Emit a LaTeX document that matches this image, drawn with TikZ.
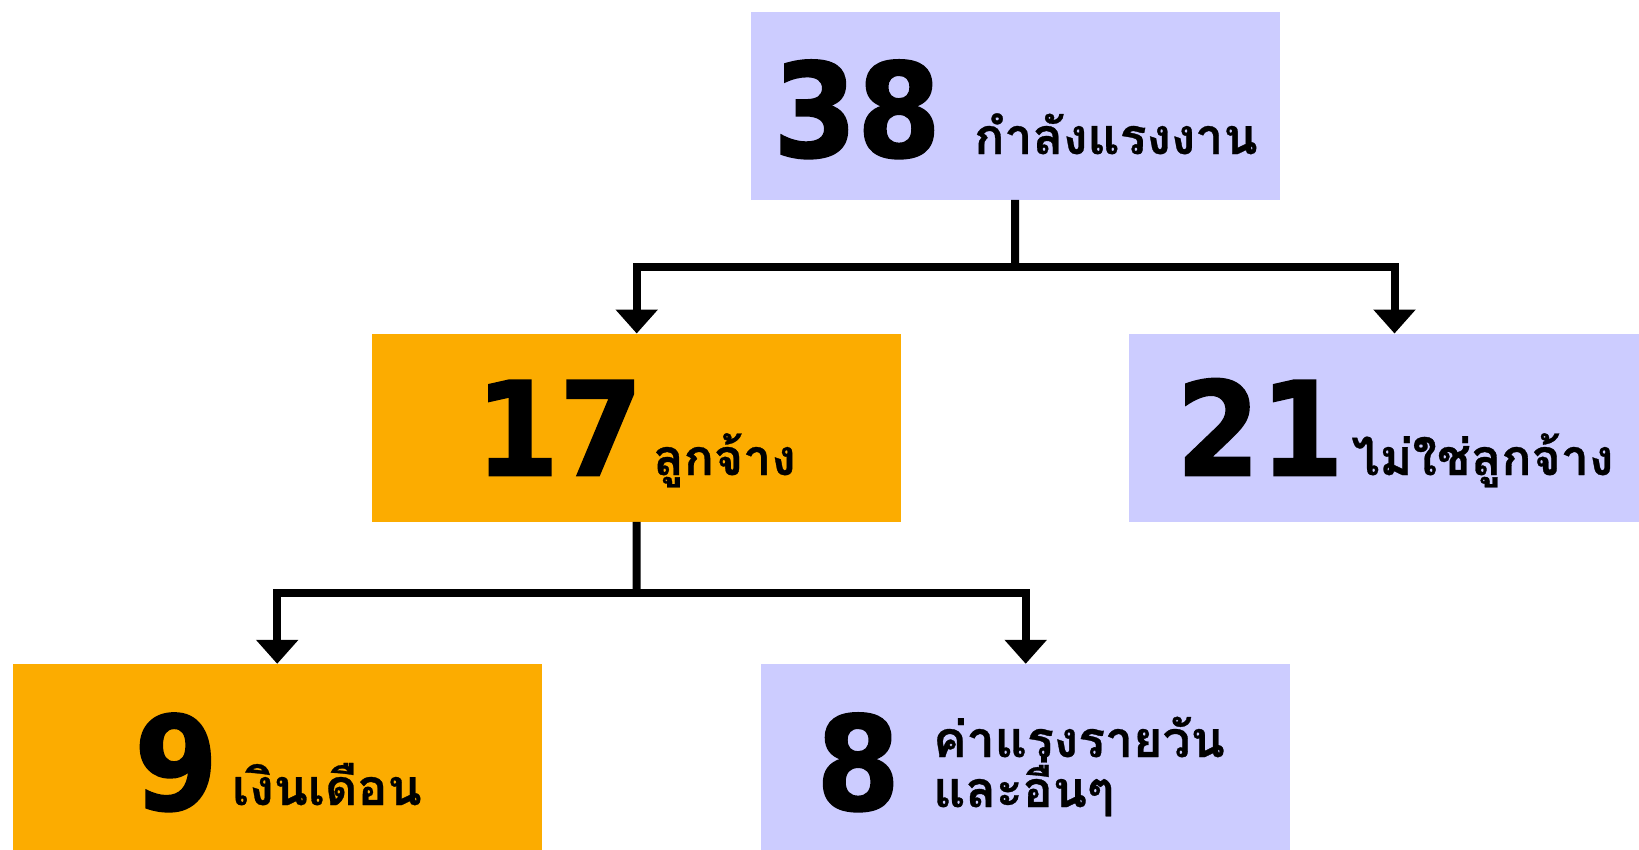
\documentclass[tikz,border=0pt]{standalone}
\usepackage{fontspec}
\newfontfamily\thaifont[Script=Thai,FakeBold=0.6]{Loma}
\newfontfamily\numfont[FakeStretch=0.92,FakeBold=1.2]{DejaVu Sans}
\usetikzlibrary{arrows.meta}
\definecolor{lav}{RGB}{204,204,255}
\definecolor{org}{RGB}{252,172,0}
\begin{document}
\begin{tikzpicture}[x=1pt,y=-1pt,
 box/.style={rectangle, inner sep=0, minimum width=529pt, minimum height=188pt, anchor=north west},
 num/.style={font=\numfont\bfseries\fontsize{131}{131}\selectfont, anchor=base west, inner sep=0},
 lab/.style={font=\thaifont\bfseries\fontsize{50}{55}\selectfont, anchor=base west, inner sep=0},
 conn/.style={line width=8pt},
 arr/.style={line width=8pt, -{Triangle[width=41pt,length=24pt]}}]
\useasboundingbox[fill=white] (0,0) rectangle (1639,849);
\node[box, fill=lav] (b38) at (750.5,11.5) {};
\node[box, fill=org] (b17) at (372,333.5) {};
\node[box, fill=lav, minimum width=510pt] (b21) at (1129,333.5) {};
\node[box, fill=org, minimum height=186pt] (b9) at (12.5,663.8) {};
\node[box, fill=lav, minimum height=186pt] (b8) at (761,663.8) {};
% texts
\node[num] (n38) at (773,157) {38};
\node[lab] (l38) at (974,154) {กำลังแรงงาน};
\node[num] (n17) at (475,475.6) {17};
\node[lab] (l17) at (653,475) {ลูกจ้าง};
\node[num] (n21) at (1176,475.6) {21};
\node[lab] (l21) at (1351.5,475) {ไม่ใช่ลูกจ้าง};
\node[num] (n9) at (134,810) {9};
\node[lab] (l9) at (232,805) {เงินเดือน};
\node[num] (n8) at (816,810) {8};
\node[lab] (l8a) at (933,757) {ค่าแรงรายวัน};
\node[lab] (l8b) at (933,807) {และอื่นๆ};
% connectors
\coordinate (j1) at (1015,266.5);
\coordinate (j2) at (636.5,592.7);
\coordinate (t21) at (1394.5,333.5);
\draw[conn] (b38.south) -- (j1);
\draw[arr] (j1) -| (b17.north);
\draw[arr] (j1) -| (t21);
\draw[conn] (b17.south) -- (j2);
\draw[arr] (j2) -| (b9.north);
\draw[arr] (j2) -| (b8.north);
\end{tikzpicture}
\end{document}
